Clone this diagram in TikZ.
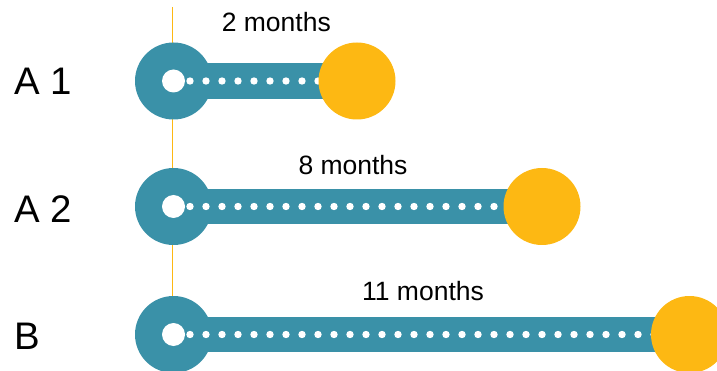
\documentclass[tikz,border=0pt]{standalone}
\usepackage{fontspec}
\setmainfont{Liberation Sans}
\definecolor{teal1}{HTML}{3A91A8}
\definecolor{gold1}{HTML}{FDB813}
\tikzset{
  startdot/.style={circle, fill=teal1, inner sep=0pt, minimum size=77pt},
  hole/.style={circle, fill=white, inner sep=0pt, minimum size=23pt},
  enddot/.style={circle, fill=gold1, inner sep=0pt, minimum size=77pt},
  bar/.style={teal1, line width=35.5pt},
  dotrow/.style={white, line width=7.4pt, line cap=round, dash pattern=on 0pt off 16pt},
  rowlabel/.style={font=\fontsize{38.4pt}{40pt}\selectfont, anchor=base west, inner sep=0pt},
  months/.style={font=\fontsize{26.5pt}{28pt}\selectfont, anchor=base, inner sep=0pt},
  axis/.style={gold1, line width=1.5pt}
}
\begin{document}
\begin{tikzpicture}[x=1pt, y=-1pt]
\clip (0,0) rectangle (717,371);
% centres
\coordinate (top) at (172.5,7);
\coordinate (e1) at (357,81);
\coordinate (e2) at (542,206.5);
\coordinate (e3) at (689.5,334.5);
% vertical line
\node[inner sep=0pt] (s3c) at (173.5,334.5) {};
\draw[axis] (top) -- (172.5,334.5);
% start circles
\node[startdot] (s1) at (173.5,81) {};
\node[startdot] (s2) at (173.5,206.5) {};
\node[startdot] (s3) at (173.5,334.5) {};
% bars
\draw[bar] (s1.center) -- (e1);
\draw[bar] (s2.center) -- (e2);
\draw[bar] (s3.center) -- (e3);
% holes
\node[hole] (h1) at (s1.center) {};
\node[hole] (h2) at (s2.center) {};
\node[hole] (h3) at (s3.center) {};
% dotted rows
\draw[dotrow] ([xshift=16.5pt]h1.center) -- (e1);
\draw[dotrow] ([xshift=16.5pt]h2.center) -- (e2);
\draw[dotrow] ([xshift=16.5pt]h3.center) -- (e3);
% end circles
\node[enddot] (y1) at (e1) {};
\node[enddot] (y2) at (e2) {};
\node[enddot] (y3) at (e3) {};
% labels
\node[rowlabel] (l1) at (14.5,94.3) {A 1};
\node[rowlabel] (l2) at (14.5,222.7) {A 2};
\node[rowlabel] (l3) at (14.5,349.3) {B};
\node[months] (m1) at (276.3,31.7) {2 months};
\node[months] (m2) at (353,174.7) {8 months};
\node[months] (m3) at (423,300.7) {11 months};
\end{tikzpicture}
\end{document}
